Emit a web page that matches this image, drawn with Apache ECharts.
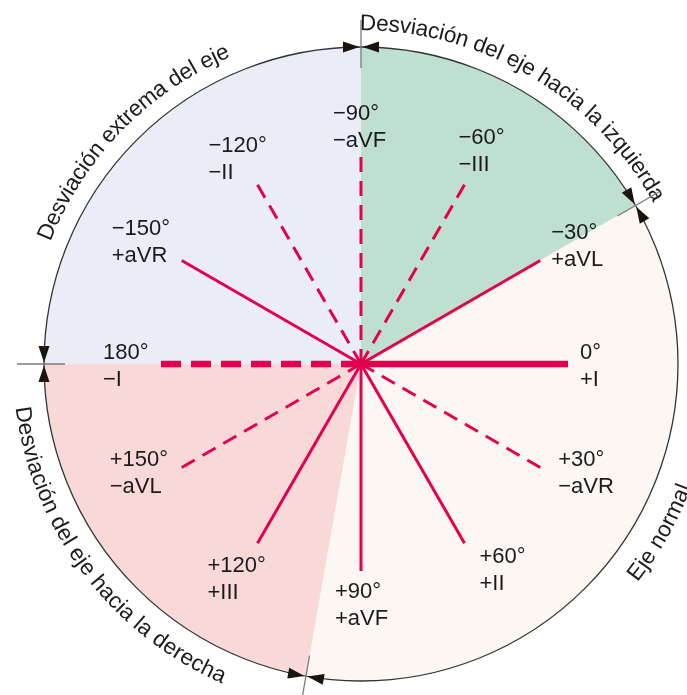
<!DOCTYPE html>
<html><head><meta charset="utf-8">
<script src="https://cdn.jsdelivr.net/npm/echarts@6/dist/echarts.min.js"></script>
<style>html,body{margin:0;padding:0;background:#fff}#c{width:687px;height:695px}</style>
</head><body><div id="c"></div>
<script>
// ---- data ----
const rayAngles     = [0, 30, 60, 90, 120, 150, 180, -150, -120, -90, -60, -30];
const rayDashed     = [false, true, false, false, false, true, true, false, true, true, true, false];
const rayDegLabels  = ['0°', '+30°', '+60°', '+90°', '+120°', '+150°', '180°', '−150°', '−120°', '−90°', '−60°', '−30°'];
const rayLeadLabels = ['+I', '−aVR', '+II', '+aVF', '+III', '−aVL', '−I', '+aVR', '−II', '−aVF', '−III', '+aVL'];
const sectorNames   = ['Desviación extrema del eje', 'Desviación del eje hacia la izquierda', 'Eje normal', 'Desviación del eje hacia la derecha'];
const sectorBounds  = [-180, -90, -30, 100, 180];

// ---- styles / layout ----
const sectorColors = ['#eaedf8', '#bfe0d0', '#fdf7f3', '#f8d9d8'];
const RED = '#e2004f';
const TXT = '#1c1a1b';
const CX = 361, CY = 364, R = 317;
const RAY_LEN = 207;
const labelOffsets = { // [dx, dy] from ray end, px
  '0': [12, -25], '30': [18, -21], '60': [15, 0], '90': [-26, 7], '120': [-50, 9], '150': [-72, -21],
  '180': [-51, -25], '-150': [-70, -45], '-120': [-49, -52], '-90': [-28, -57], '-60': [-6, -60], '-30': [11, -41]
};
const curvedText = [ // start angle (screen deg, clockwise from +x), radius, top (reads clockwise) / bottom (reads counter-clockwise)
  { start: -158.5, r: 340, top: true },
  { start: -90.2,  r: 340, top: true },
  { start: 38.3,   r: 346, top: false },
  { start: 172.8,  r: 342, top: false }
];
const FONT = "'Liberation Sans', Arial, sans-serif";
const LABEL_SIZE = 22, ARC_SIZE = 22.5;

const chart = echarts.init(document.getElementById('c'), null, { renderer: 'canvas' });

const spans = sectorBounds.slice(1).map((b, i) => b - sectorBounds[i]);

const series = [];
series.push({
  type: 'pie', center: [CX, CY], radius: [0, R], startAngle: 180, clockwise: true,
  silent: true, z: 1, label: { show: false }, labelLine: { show: false },
  itemStyle: { borderWidth: 0 }, emphasis: { disabled: true },
  data: spans.map((v, i) => ({ value: v, name: sectorNames[i], itemStyle: { color: sectorColors[i] } }))
});
rayAngles.forEach((a, i) => {
  const thick = (a === 0 || a === 180);
  series.push({
    type: 'line', coordinateSystem: 'polar', polarIndex: 0, silent: true, z: 5,
    symbol: 'none', animation: false,
    lineStyle: { color: RED, width: thick ? 6.5 : 3, type: rayDashed[i] ? (thick ? [20, 10] : [15, 9]) : 'solid', cap: 'butt' },
    data: [[0, a], [RAY_LEN, a]]
  });
});
series.push({
  type: 'scatter', coordinateSystem: 'polar', polarIndex: 0, silent: true, z: 6,
  symbolSize: 0,
  data: rayAngles.map((a, i) => ({
    value: [RAY_LEN, a],
    label: {
      show: true, position: labelOffsets[String(a)], align: 'left', verticalAlign: 'top',
      formatter: rayDegLabels[i] + '\n' + rayLeadLabels[i],
      fontSize: LABEL_SIZE, lineHeight: 27, color: TXT, fontFamily: FONT, opacity: 1
    }
  }))
});

// curved titles & boundary markers
const graphics = [];
const ctx = document.createElement('canvas').getContext('2d');
ctx.font = ARC_SIZE + "px " + FONT;
const rad = d => d * Math.PI / 180;
sectorNames.forEach((txt, k) => {
  const ct = curvedText[k];
  const chars = Array.from(txt);
  const ws = chars.map(c => ctx.measureText(c).width);
  let cum = 0;
  chars.forEach((c, j) => {
    const mid = (cum + ws[j] / 2) / ct.r;
    cum += ws[j];
    const th = ct.top ? rad(ct.start) + mid : rad(ct.start) - mid;
    const x = CX + ct.r * Math.cos(th), y = CY + ct.r * Math.sin(th);
    const rot = ct.top ? -(th + Math.PI / 2) : (Math.PI / 2 - th);
    graphics.push({
      type: 'text', x: x, y: y, rotation: rot, silent: true, z: 20,
      style: { text: c, font: ARC_SIZE + "px " + FONT, fill: TXT, align: 'center', verticalAlign: 'middle' }
    });
  });
});
sectorBounds.slice(0, 4).forEach(b => {
  const th = rad(b);
  const cs = Math.cos(th), sn = Math.sin(th);
  const p = (r, t) => [CX + r * cs - t * sn, CY + r * sn + t * cs];
  graphics.push({ type: 'line', silent: true, z: 21,
    shape: { x1: p(296, 0)[0], y1: p(296, 0)[1], x2: p(344, 0)[0], y2: p(344, 0)[1] },
    style: { stroke: '#7a7a7a', lineWidth: 1.3 } });
  [-1, 1].forEach(sg => {
    graphics.push({ type: 'polygon', silent: true, z: 22,
      shape: { points: [p(R, sg * 1.5), p(R - 5.5, sg * 18), p(R + 5.5, sg * 18)] },
      style: { fill: '#1a1410' } });
  });
});

chart.setOption({
  animation: false,
  backgroundColor: '#ffffff',
  polar: { center: [CX, CY], radius: R },
  angleAxis: {
    type: 'value', min: -180, max: 180, startAngle: 180, clockwise: true,
    axisLine: { show: true, lineStyle: { color: '#333333', width: 1.3 } },
    axisTick: { show: false }, axisLabel: { show: false }, splitLine: { show: false }, z: 3
  },
  radiusAxis: { type: 'value', min: 0, max: R, axisLine: { show: false }, axisTick: { show: false }, axisLabel: { show: false }, splitLine: { show: false } },
  series: series,
  graphic: graphics
});
</script></body></html>
